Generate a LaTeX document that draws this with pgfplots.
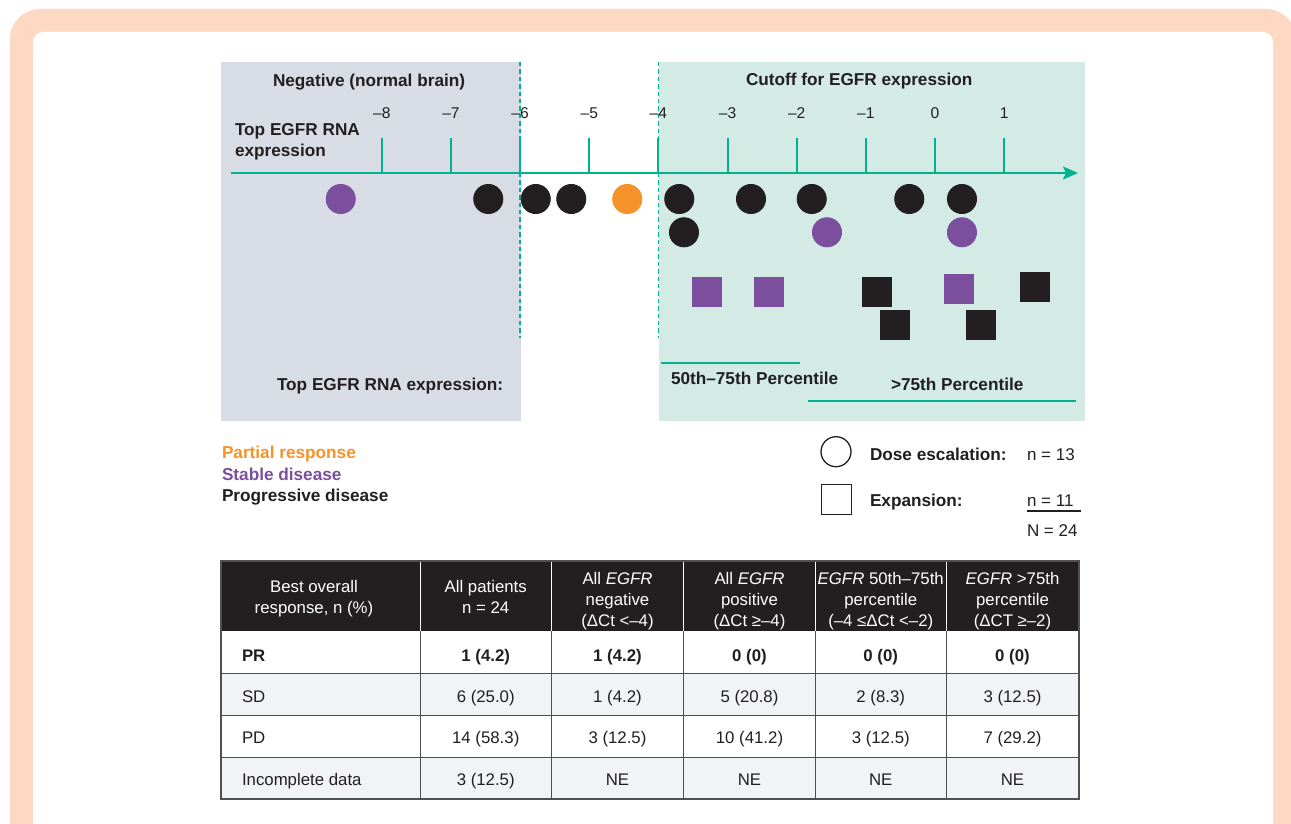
\documentclass[border=0pt]{standalone}
\usepackage{pgfplots}
\pgfplotsset{compat=1.18}
\usepackage{fontspec}
\setmainfont{Liberation Sans}
\usetikzlibrary{arrows.meta}
\definecolor{frame}{RGB}{253,217,195}
\definecolor{graybg}{RGB}{216,220,229}
\definecolor{greenbg}{RGB}{211,235,228}
\definecolor{teal1}{RGB}{0,178,145}
\definecolor{pur}{RGB}{123,79,157}
\definecolor{org}{RGB}{245,146,42}
\definecolor{blk}{RGB}{35,31,32}
\definecolor{rowgray}{RGB}{242,243,247}
\definecolor{rule}{RGB}{80,80,80}
\newcommand\fb{\fontsize{8.6}{10}\selectfont\bfseries}
\newcommand\fr{\fontsize{8.5}{10}\selectfont}
\newcommand\ft{\fontsize{7.8}{9}\selectfont}
\newcommand\fh{\fontsize{8.4}{10}\selectfont}

\begin{document}
\begin{tikzpicture}
\useasboundingbox (0,0) rectangle (645.5pt,-412pt);
\begin{scope}[x=0.5pt,y=-0.5pt, every node/.style={inner sep=0pt, outer sep=0pt, text=blk}]
  \begin{scope}
    \clip (0,0) rectangle (1291,824);
    \fill[frame, rounded corners=15pt] (10,9) rectangle (1296,900);
    \fill[white, rounded corners=5pt] (33,32) rectangle (1273,890);
  \end{scope}
  \fill[graybg] (221,62) rectangle (521,421);
  \fill[greenbg] (659,62) rectangle (1085,421);
\end{scope}

\begin{axis}[at={(110.5pt,-31pt)}, anchor=north west, scale only axis,
  width=432pt, height=179.5pt,
  xmin=-10.3254, xmax=2.1692, ymin=-421, ymax=-62,
  hide axis, clip=false]
  % cutoff lines
  \draw[teal1, line width=0.8pt, dash pattern=on 2.2pt off 1.5pt] (axis cs:-6,-62) -- (axis cs:-6,-338);
  \draw[teal1, line width=0.8pt, dash pattern=on 2.2pt off 1.5pt] (axis cs:-4,-62) -- (axis cs:-4,-338);
  % number line
  \draw[teal1, line width=1pt, -{Stealth[length=7.5pt,width=6.5pt,inset=1.5pt]}] (axis cs:-10.18,-173) -- (axis cs:2.068,-173);
  \pgfplotsinvokeforeach{-8,-7,-6,-5,-4,-3,-2,-1,0,1}{
    \draw[teal1, line width=1pt] (axis cs:#1,-138) -- (axis cs:#1,-173);
  }
  % dose escalation (circles)
  \addplot[only marks, color=pur, mark=*, mark size=7.3pt, mark options={line width=0.4pt, draw=pur, fill=pur}]
    coordinates {(-8.594,-199) (-1.562,-232.3) (0.390,-232.3)};
  \addplot[only marks, color=org, mark=*, mark size=7.3pt, mark options={line width=0.4pt, draw=org, fill=org}]
    coordinates {(-4.450,-199)};
  \addplot[only marks, color=blk, mark=*, mark size=7.3pt, mark options={line width=0.4pt, draw=blk, fill=blk}]
    coordinates {(-6.460,-199) (-5.774,-199) (-5.260,-199) (-3.698,-199) (-2.661,-199)
                 (-1.783,-199) (-0.372,-199) (0.390,-199) (-3.630,-232.3)};
  % expansion (squares)
  \addplot[only marks, color=pur, mark=square*, mark size=7.3pt, mark options={line width=0.4pt, draw=pur, fill=pur}]
    coordinates {(-3.297,-291.8) (-2.401,-291.8) (0.347,-288.8)};
  \addplot[only marks, color=blk, mark=square*, mark size=7.3pt, mark options={line width=0.4pt, draw=blk, fill=blk}]
    coordinates {(-0.839,-291.8) (-0.578,-324.8) (0.665,-324.8) (1.446,-286.8)};
\end{axis}

\begin{scope}[x=0.5pt,y=-0.5pt, every node/.style={inner sep=0pt, outer sep=0pt, text=blk}]
  % tick labels
  \node[anchor=base, font=\ft] at (381.8,118.3) {–8};
  \node[anchor=base, font=\ft] at (450.95,118.3) {–7};
  \node[anchor=base, font=\ft] at (520.1,118.3) {–6};
  \node[anchor=base, font=\ft] at (589.25,118.3) {–5};
  \node[anchor=base, font=\ft] at (658.4,118.3) {–4};
  \node[anchor=base, font=\ft] at (727.55,118.3) {–3};
  \node[anchor=base, font=\ft] at (796.7,118.3) {–2};
  \node[anchor=base, font=\ft] at (865.85,118.3) {–1};
  \node[anchor=base, font=\ft] at (935,118.3) {0};
  \node[anchor=base, font=\ft] at (1004.15,118.3) {1};
  % chart labels
  \node[anchor=base west, font=\fb] at (273,86.5) {Negative (normal brain)};
  \node[anchor=base west, font=\fb] at (746,86) {Cutoff for EGFR expression};
  \node[anchor=base west, font=\fb] at (235,136) {Top EGFR RNA};
  \node[anchor=base west, font=\fb] at (235,156.7) {expression};
  \node[anchor=base west, font=\fb] at (277,390.7) {Top EGFR RNA expression:};
  \node[anchor=base west, font=\fb] at (671,384) {50th–75th Percentile};
  \node[anchor=base west, font=\fb] at (891,390) {>75th Percentile};
  \draw[teal1, line width=1pt] (661,362.7) -- (800,362.7);
  \draw[teal1, line width=1pt] (808,400.7) -- (1076,400.7);
  % legend
  \node[anchor=base west, font=\fb, text=org] at (222,458.3) {Partial response};
  \node[anchor=base west, font=\fb, text=pur] at (222,480) {Stable disease};
  \node[anchor=base west, font=\fb] at (222,501.7) {Progressive disease};
  \draw[blk, line width=0.65pt] (836,451.7) circle (7.5pt);
  \draw[blk, line width=0.65pt] (821.3,484.7) rectangle (851.3,514.3);
  \node[anchor=base west, font=\fb] at (870,460) {Dose escalation:};
  \node[anchor=base west, font=\fb] at (870,506.7) {Expansion:};
  \node[anchor=base west, font=\fr] at (1027,460) {n = 13};
  \node[anchor=base west, font=\fr] at (1027,506.7) {n = 11};
  \draw[blk, line width=0.8pt] (1027,510.7) -- (1081,510.7);
  \node[anchor=base west, font=\fr] at (1027,536.7) {N = 24};
  % table
  \fill[blk] (221,561) rectangle (1079,631);
  \fill[rowgray] (221,673) rectangle (1079,715);
  \fill[rowgray] (221,757) rectangle (1079,799);
  \foreach \yy in {673,715,757} \draw[rule, line width=0.5pt] (221,\yy) -- (1079,\yy);
  \foreach \xx in {420,551.5,683.5,815.5,946} {
    \draw[rule, line width=0.5pt] (\xx,631) -- (\xx,799);
    \draw[white, line width=0.5pt] (\xx,561) -- (\xx,631);
  }
  \draw[rule, line width=0.6pt] (221,561) rectangle (1079,799);
  % header
  \begin{scope}[every node/.style={inner sep=0pt, outer sep=0pt, text=white, font=\fh, anchor=base}]
    \node at (314,592.5) {Best overall};
    \node at (314,613) {response, n (\%)};
    \node at (485.75,592.5) {All patients};
    \node at (485.75,613) {n = 24};
    \node at (617.5,584.7) {All \textit{EGFR}};
    \node at (617.5,605.5) {negative};
    \node at (617.5,626.3) {(ΔCt <–4)};
    \node at (749.5,584.7) {All \textit{EGFR}};
    \node at (749.5,605.5) {positive};
    \node at (749.5,626.3) {(ΔCt ≥–4)};
    \node at (880.75,584.7) {\textit{EGFR} 50th–75th};
    \node at (880.75,605.5) {percentile};
    \node at (880.75,626.3) {(–4 ≤ΔCt <–2)};
    \node at (1012.5,584.7) {\textit{EGFR} >75th};
    \node at (1012.5,605.5) {percentile};
    \node at (1012.5,626.3) {(ΔCT ≥–2)};
  \end{scope}
  % body
  \begin{scope}[every node/.style={inner sep=0pt, outer sep=0pt, text=blk, font=\fh, anchor=base}]
    \node[anchor=base west, font=\fh\bfseries] at (242,661) {PR};
    \node[font=\fh\bfseries] at (485.75,661) {1 (4.2)};
    \node[font=\fh\bfseries] at (617.5,661) {1 (4.2)};
    \node[font=\fh\bfseries] at (749.5,661) {0 (0)};
    \node[font=\fh\bfseries] at (880.75,661) {0 (0)};
    \node[font=\fh\bfseries] at (1012.5,661) {0 (0)};
    \node[anchor=base west] at (242,702) {SD};
    \node at (485.75,702) {6 (25.0)};
    \node at (617.5,702) {1 (4.2)};
    \node at (749.5,702) {5 (20.8)};
    \node at (880.75,702) {2 (8.3)};
    \node at (1012.5,702) {3 (12.5)};
    \node[anchor=base west] at (242,743.5) {PD};
    \node at (485.75,743.5) {14 (58.3)};
    \node at (617.5,743.5) {3 (12.5)};
    \node at (749.5,743.5) {10 (41.2)};
    \node at (880.75,743.5) {3 (12.5)};
    \node at (1012.5,743.5) {7 (29.2)};
    \node[anchor=base west] at (242,785) {Incomplete data};
    \node at (485.75,785) {3 (12.5)};
    \node at (617.5,785) {NE};
    \node at (749.5,785) {NE};
    \node at (880.75,785) {NE};
    \node at (1012.5,785) {NE};
  \end{scope}
\end{scope}
\end{tikzpicture}
\end{document}
